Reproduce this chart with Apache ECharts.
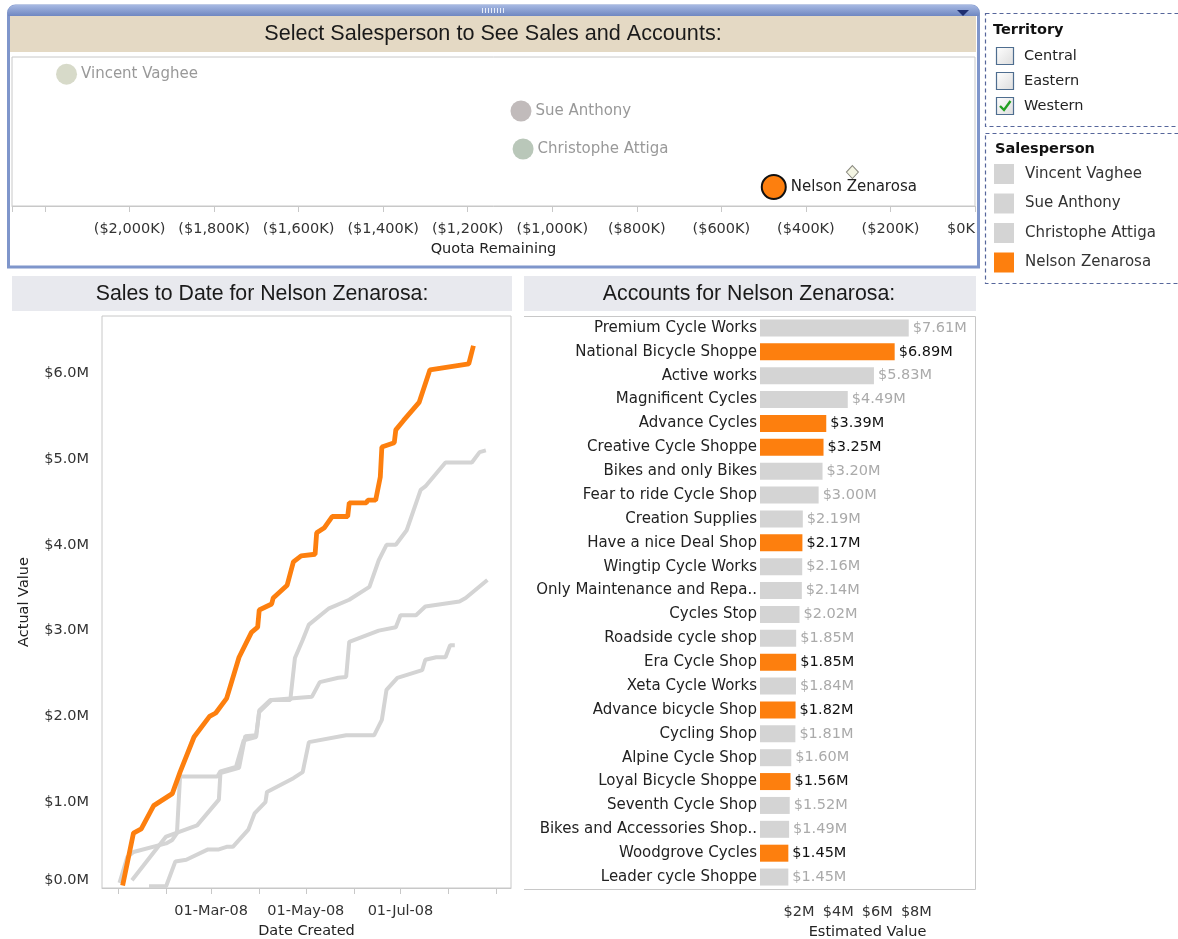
<!DOCTYPE html>
<html>
<head>
<meta charset="utf-8">
<title>Select Salesperson to See Sales and Accounts</title>
<script src="https://cdn.jsdelivr.net/npm/echarts@6/dist/echarts.min.js"></script>
<style>
html, body { margin: 0; padding: 0; background: #fff; }
#main { width: 1178px; height: 939px; }
</style>
</head>
<body>
<div id="main"></div>
<script>
// salespeople scatter (quota remaining in $K)
var salespeople = ['Vincent Vaghee', 'Sue Anthony', 'Christophe Attiga', 'Nelson Zenarosa'];
var quotaRemaining = [-2149, -1074, -1069, -476];
var rowPos = [3.54, 2.55, 1.53, 0.51];
var quotaMarker = [-290, 0.91];
var selectedPerson = 'Nelson Zenarosa';

var territories = ['Central', 'Eastern', 'Western'];
var territoryChecked = [false, false, true];

// cumulative sales to date, $M
var vincentSales = [
    ['2008-01-21', 0.02], ['2008-02-01', 0.02], ['2008-02-07', 0.31], ['2008-02-14', 0.33],
    ['2008-02-28', 0.45], ['2008-03-06', 0.45], ['2008-03-11', 0.48], ['2008-03-15', 0.48],
    ['2008-03-25', 0.68], ['2008-03-29', 0.87], ['2008-04-05', 1.00], ['2008-04-06', 1.12],
    ['2008-04-23', 1.28], ['2008-04-29', 1.35], ['2008-05-03', 1.70], ['2008-05-27', 1.78],
    ['2008-06-14', 1.78], ['2008-06-19', 1.96], ['2008-06-22', 2.31], ['2008-06-29', 2.45],
    ['2008-07-15', 2.54], ['2008-07-17', 2.66], ['2008-07-24', 2.69], ['2008-07-30', 2.69],
    ['2008-08-02', 2.83], ['2008-08-05', 2.83]
];
var sueSales = [
    ['2008-01-02', 0.06], ['2008-01-07', 0.36], ['2008-01-11', 0.42], ['2008-02-01', 0.52],
    ['2008-02-05', 0.56], ['2008-02-08', 0.64], ['2008-02-10', 1.30], ['2008-03-05', 1.30],
    ['2008-03-07', 1.36], ['2008-03-17', 1.41], ['2008-03-22', 1.72], ['2008-03-30', 1.76],
    ['2008-04-01', 2.07], ['2008-04-08', 2.19], ['2008-04-21', 2.19], ['2008-04-24', 2.68],
    ['2008-04-29', 2.89], ['2008-05-03', 3.07], ['2008-05-16', 3.26], ['2008-05-29', 3.36],
    ['2008-06-11', 3.51], ['2008-06-17', 3.82], ['2008-06-22', 4.00], ['2008-06-28', 4.00],
    ['2008-07-05', 4.17], ['2008-07-14', 4.64], ['2008-07-17', 4.68], ['2008-07-30', 4.96],
    ['2008-08-16', 4.96], ['2008-08-21', 5.08], ['2008-08-25', 5.10]
];
var christopheSales = [
    ['2008-01-10', 0.09], ['2008-02-01', 0.60], ['2008-02-21', 0.73], ['2008-03-06', 1.03],
    ['2008-03-07', 1.34], ['2008-03-19', 1.40], ['2008-03-23', 1.77], ['2008-03-30', 1.78],
    ['2008-04-01', 2.05], ['2008-04-09', 2.19], ['2008-05-05', 2.23], ['2008-05-10', 2.40],
    ['2008-05-22', 2.45], ['2008-05-27', 2.46], ['2008-05-29', 2.87], ['2008-06-17', 3.00],
    ['2008-06-28', 3.04], ['2008-07-01', 3.18], ['2008-07-11', 3.18], ['2008-07-17', 3.28],
    ['2008-08-08', 3.34], ['2008-08-12', 3.38], ['2008-08-26', 3.59]
];
var nelsonSales = [
    ['2008-01-04', 0.03], ['2008-01-11', 0.64], ['2008-01-16', 0.69], ['2008-01-24', 0.96],
    ['2008-02-05', 1.10], ['2008-02-10', 1.35], ['2008-02-19', 1.76], ['2008-02-29', 2.00],
    ['2008-03-04', 2.04], ['2008-03-11', 2.21], ['2008-03-19', 2.69], ['2008-03-27', 2.98],
    ['2008-03-31', 3.04], ['2008-04-01', 3.24], ['2008-04-09', 3.31], ['2008-04-10', 3.38],
    ['2008-04-19', 3.53], ['2008-04-23', 3.80], ['2008-04-28', 3.87], ['2008-05-07', 3.89],
    ['2008-05-08', 4.14], ['2008-05-13', 4.20], ['2008-05-18', 4.33], ['2008-05-28', 4.33],
    ['2008-05-29', 4.49], ['2008-06-09', 4.49], ['2008-06-10', 4.52], ['2008-06-15', 4.52],
    ['2008-06-18', 4.79], ['2008-06-19', 5.14], ['2008-06-27', 5.19], ['2008-06-28', 5.34],
    ['2008-07-03', 5.45], ['2008-07-13', 5.66], ['2008-07-20', 6.04], ['2008-08-14', 6.11],
    ['2008-08-15', 6.18], ['2008-08-17', 6.32]
];

// accounts, estimated value $M
var accounts = [
    'Premium Cycle Works', 'National Bicycle Shoppe', 'Active works', 'Magnificent Cycles',
    'Advance Cycles', 'Creative Cycle Shoppe', 'Bikes and only Bikes', 'Fear to ride Cycle Shop',
    'Creation Supplies', 'Have a nice Deal Shop', 'Wingtip Cycle Works', 'Only Maintenance and Repa..',
    'Cycles Stop', 'Roadside cycle shop', 'Era Cycle Shop', 'Xeta Cycle Works',
    'Advance bicycle Shop', 'Cycling Shop', 'Alpine Cycle Shop', 'Loyal Bicycle Shoppe',
    'Seventh Cycle Shop', 'Bikes and Accessories Shop..', 'Woodgrove Cycles', 'Leader cycle Shoppe'
];
var accountValues = [7.61, 6.89, 5.83, 4.49, 3.39, 3.25, 3.20, 3.00, 2.19, 2.17, 2.16, 2.14,
    2.02, 1.85, 1.85, 1.84, 1.82, 1.81, 1.60, 1.56, 1.52, 1.49, 1.45, 1.45];
var nelsonAccounts = ['National Bicycle Shoppe', 'Advance Cycles', 'Creative Cycle Shoppe',
    'Have a nice Deal Shop', 'Era Cycle Shop', 'Advance bicycle Shop', 'Loyal Bicycle Shoppe',
    'Woodgrove Cycles'];

var ORANGE = '#fd7f0e';
var GREY = '#d4d4d4';
var personColors = ['#d7dac9', '#c1bbbb', '#b9c7b9', ORANGE];
var FONT = 'DejaVu Sans';
var TFONT = 'Liberation Sans';
var MONTHS = ['Jan', 'Feb', 'Mar', 'Apr', 'May', 'Jun', 'Jul', 'Aug', 'Sep', 'Oct', 'Nov', 'Dec'];
var DAY = 24 * 3600 * 1000;

function fmtK(v) {
    if (v < -2100) return '';
    if (v === 0) return '$0K';
    var s = String(-v).replace(/\B(?=(\d{3})+(?!\d))/g, ',');
    return '($' + s + 'K)';
}

// decoration: panels, bands, filters
var graphics = [];
function addRect(x, y, w, h, style, r) {
    graphics.push({ type: 'rect', silent: true, shape: { x: x, y: y, width: w, height: h, r: r || 0 }, style: style });
}
function addText(x, y, text, font, fill, align) {
    graphics.push({ type: 'text', silent: true, x: x, y: y,
        style: { text: text, font: font, fill: fill, textAlign: align || 'left', textVerticalAlign: 'middle' } });
}

// top panel frame
addRect(8.5, 6, 970, 261, { fill: 'none', stroke: '#7f96cb', lineWidth: 3 }, [7, 7, 0, 0]);
addRect(8, 5, 971, 11, { fill: new echarts.graphic.LinearGradient(0, 0, 0, 1, [
    { offset: 0, color: '#a6b8e2' }, { offset: 1, color: '#6f87c1' }]) }, [7, 7, 0, 0]);
for (var g = 0; g < 8; g++) {
    addRect(482 + g * 3, 8, 1, 5, { fill: '#e8eefa' });
}
graphics.push({ type: 'polygon', silent: true, shape: { points: [[957, 10], [969, 10], [963, 16]] }, style: { fill: '#1f2f70' } });
addRect(10, 16, 966, 36, { fill: '#e4d9c4' });
addText(493, 34, 'Select Salesperson to See Sales and Accounts:', '21.6px ' + TFONT, '#1a1a1a', 'center');

// lower title bands
addRect(12, 276, 500, 35, { fill: '#e8e9ee' });
addText(262, 294, 'Sales to Date for Nelson Zenarosa:', '21.3px ' + TFONT, '#1a1a1a', 'center');
addRect(524, 276, 452, 35, { fill: '#e8e9ee' });
addText(749, 294, 'Accounts for Nelson Zenarosa:', '21.3px ' + TFONT, '#1a1a1a', 'center');
graphics.push({ type: 'polyline', silent: true,
    shape: { points: [[524, 316.5], [975.5, 316.5], [975.5, 889.5], [524, 889.5]] },
    style: { fill: 'none', stroke: '#c8c8c8', lineWidth: 1 } });

// territory filter
addRect(985.5, 13.5, 210, 113, { fill: 'none', stroke: '#56669b', lineWidth: 1.2, lineDash: [4, 3] });
addText(993, 30, 'Territory', 'bold 14.5px ' + FONT, '#111');
territories.forEach(function(t, i) {
    var yc = 56 + i * 25;
    addRect(996.5, yc - 8.5, 17, 17, { fill: new echarts.graphic.LinearGradient(0, 0, 1, 1, [
        { offset: 0, color: '#ffffff' }, { offset: 1, color: '#dcdcdc' }]), stroke: '#4e6d8f', lineWidth: 1.2 });
    addText(1024, yc, t, '14.5px ' + FONT, '#222');
    if (territoryChecked[i]) {
        graphics.push({ type: 'polyline', silent: true,
            shape: { points: [[1000, yc], [1004, yc + 4], [1010.5, yc - 5]] },
            style: { fill: 'none', stroke: '#22a022', lineWidth: 2.4 } });
    }
});

// salesperson legend box
addRect(985.5, 133.5, 210, 150, { fill: 'none', stroke: '#56669b', lineWidth: 1.2, lineDash: [4, 3] });
addText(995, 149, 'Salesperson', 'bold 14.5px ' + FONT, '#111');

var lineSets = [vincentSales, sueSales, christopheSales, nelsonSales];

var option = {
    animation: false,
    textStyle: { fontFamily: FONT },
    graphic: { elements: graphics },
    legend: {
        data: salespeople,
        orient: 'vertical',
        left: 994,
        top: 164,
        padding: 0,
        itemWidth: 20,
        itemHeight: 20,
        itemGap: 9.5,
        icon: 'rect',
        selectedMode: false,
        textStyle: { fontSize: 15, color: '#333', padding: [0, 0, 0, 6] }
    },
    grid: [
        { left: 12, right: 203, top: 57, height: 149, show: true, borderColor: '#c8c8c8', borderWidth: 1, outerBoundsMode: 'none' },
        { left: 102, right: 667, top: 316, bottom: 51, show: true, borderColor: '#c8c8c8', borderWidth: 1, outerBoundsMode: 'none' },
        { left: 760, right: 203, top: 316, bottom: 50, outerBoundsMode: 'none' }
    ],
    xAxis: [{
        gridIndex: 0,
        type: 'value',
        min: -2278,
        max: 0,
        splitNumber: 11,
        splitLine: { show: false },
        axisLine: { lineStyle: { color: '#c8c8c8' } },
        axisTick: { length: 6, lineStyle: { color: '#c8c8c8' } },
        axisLabel: { margin: 16, fontSize: 14.5, color: '#333', alignMaxLabel: 'right', formatter: fmtK },
        name: 'Quota Remaining',
        nameLocation: 'middle',
        nameGap: 36,
        nameTextStyle: { fontSize: 14.5, color: '#222' }
    }, {
        gridIndex: 1,
        type: 'time',
        min: '2007-12-21 17:00:00',
        max: '2008-09-10 05:00:00',
        splitNumber: 9,
        minInterval: 28 * DAY,
        maxInterval: 31 * DAY,
        splitLine: { show: false },
        axisLine: { lineStyle: { color: '#c8c8c8' } },
        axisTick: { length: 6, lineStyle: { color: '#c8c8c8' } },
        axisLabel: {
            margin: 16, fontSize: 14.5, color: '#333', hideOverlap: false,
            formatter: function(v) {
                var d = new Date(v);
                var m = d.getMonth();
                if (d.getDate() !== 1 || [2, 4, 6].indexOf(m) < 0) return '';
                return '01-' + MONTHS[m] + '-08';
            }
        },
        name: 'Date Created',
        nameLocation: 'middle',
        nameGap: 36,
        nameTextStyle: { fontSize: 14.5, color: '#222' }
    }, {
        gridIndex: 2,
        type: 'value',
        min: 0,
        max: 11,
        interval: 2,
        splitLine: { show: false },
        axisLine: { lineStyle: { color: '#c8c8c8' } },
        axisTick: { length: 6, lineStyle: { color: '#c8c8c8' } },
        axisLabel: {
            margin: 16, fontSize: 14.5, color: '#333',
            formatter: function(v) { return (v > 0 && v < 10) ? '$' + v + 'M' : ''; }
        },
        name: 'Estimated Value',
        nameLocation: 'middle',
        nameGap: 36,
        nameTextStyle: { fontSize: 14.5, color: '#222' }
    }],
    yAxis: [{
        gridIndex: 0,
        type: 'value',
        min: 0,
        max: 4,
        show: false
    }, {
        gridIndex: 1,
        type: 'value',
        min: 0,
        max: 6.667,
        interval: 1,
        splitLine: { show: false },
        axisLine: { lineStyle: { color: '#c8c8c8' } },
        axisTick: { length: 6, lineStyle: { color: '#c8c8c8' } },
        axisLabel: {
            margin: 13, fontSize: 14.5, color: '#333', showMaxLabel: false,
            verticalAlignMinLabel: 'bottom',
            formatter: function(v) { return (v % 1 === 0) ? '$' + v.toFixed(1) + 'M' : ''; }
        },
        name: 'Actual Value',
        nameLocation: 'middle',
        nameGap: 70,
        nameTextStyle: { fontSize: 14.5, color: '#222' }
    }, {
        gridIndex: 2,
        type: 'category',
        data: accounts,
        inverse: true,
        axisLine: { show: false },
        axisTick: { show: false },
        axisLabel: { margin: 3, fontSize: 15, color: '#222', interval: 0 }
    }],
    series: []
};

// quota remaining scatter
option.series.push({
    type: 'scatter',
    xAxisIndex: 0,
    yAxisIndex: 0,
    data: salespeople.map(function(n, i) {
        var sel = n === selectedPerson;
        return {
            name: n,
            value: [quotaRemaining[i], rowPos[i]],
            symbolSize: sel ? 24 : 21,
            itemStyle: { color: personColors[i], opacity: 1, borderColor: sel ? '#111' : personColors[i], borderWidth: sel ? 2 : 0 },
            label: { color: sel ? '#222' : '#999' }
        };
    }),
    label: { show: true, position: 'right', distance: 4, fontSize: 15, formatter: '{b}' },
    z: 3
});
option.series.push({
    type: 'scatter',
    xAxisIndex: 0,
    yAxisIndex: 0,
    symbol: 'diamond',
    symbolSize: [12, 13],
    data: [quotaMarker],
    itemStyle: { color: '#f4f5e3', opacity: 1, borderColor: '#8a8a80', borderWidth: 1 }
});

// sales to date lines
salespeople.forEach(function(n, i) {
    var sel = n === selectedPerson;
    option.series.push({
        name: n,
        type: 'line',
        xAxisIndex: 1,
        yAxisIndex: 1,
        data: lineSets[i],
        showSymbol: false,
        color: sel ? ORANGE : GREY,
        lineStyle: { width: sel ? 4.8 : 4, color: sel ? ORANGE : GREY },
        z: sel ? 5 : 3
    });
});

// accounts bars
option.series.push({
    type: 'bar',
    xAxisIndex: 2,
    yAxisIndex: 2,
    barWidth: 17,
    data: accountValues.map(function(v, i) {
        var mine = nelsonAccounts.indexOf(accounts[i]) >= 0;
        return { value: v, itemStyle: { color: mine ? ORANGE : GREY }, label: { color: mine ? '#111' : '#aaa' } };
    }),
    label: {
        show: true, position: 'right', distance: 4, fontSize: 14.5,
        formatter: function(p) { return '$' + p.value.toFixed(2) + 'M'; }
    }
});

var myChart = echarts.init(document.getElementById('main'));
myChart.setOption(option);
</script>
</body>
</html>
